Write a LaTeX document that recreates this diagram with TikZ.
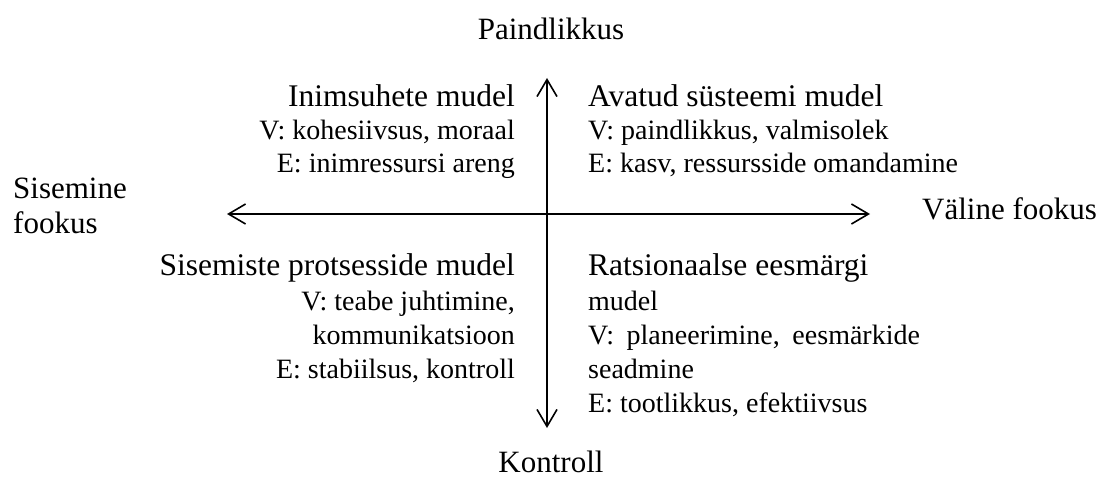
\documentclass[tikz,border=0pt]{standalone}
\usepackage{fontspec}
\setmainfont{Liberation Serif}
\usetikzlibrary{arrows.meta}
\begin{document}
\begin{tikzpicture}[x=1pt,y=-1pt,
  axislabel/.style={inner sep=0pt,font=\fontsize{31}{33}\selectfont},
  title/.style={inner sep=0pt,font=\fontsize{31.5}{33}\selectfont},
  body/.style={inner sep=0pt,font=\fontsize{28}{33}\selectfont},
  axis/.style={line width=1.6pt,{Straight Barb[length=17pt,width=20pt,line width=1.6pt]}-{Straight Barb[length=17pt,width=20pt,line width=1.6pt]}}]
\useasboundingbox (0,0) rectangle (1102,486);
% axes
\coordinate (L) at (227,214);
\coordinate (R) at (870,214);
\coordinate (T) at (547,78);
\coordinate (B) at (547,428);
\draw[axis] (L) -- (R);
\draw[axis] (T) -- (B);
% axis labels
\node[axislabel,anchor=base] (top) at (551,40) {Paindlikkus};
\node[axislabel,anchor=base] (bottom) at (551,472) {Kontroll};
\node[axislabel,anchor=base west] (left1) at (13,199) {Sisemine};
\node[axislabel,anchor=base west] (left2) at (13,234) {fookus};
\node[axislabel,anchor=base west] (right) at (922,220) {Väline fookus};
% top left
\node[title,anchor=base east] (tl1) at (515,107) {Inimsuhete mudel};
\node[body,anchor=base east] (tl2) at (515,140) {V: kohesiivsus, moraal};
\node[body,anchor=base east] (tl3) at (515,173) {E: inimressursi areng};
% top right
\node[title,anchor=base west] (tr1) at (588,107) {Avatud süsteemi mudel};
\node[body,anchor=base west] (tr2) at (588,140) {V: paindlikkus, valmisolek};
\node[body,anchor=base west] (tr3) at (588,173) {E: kasv, ressursside omandamine};
% bottom left
\node[title,anchor=base east] (bl1) at (515,276) {Sisemiste protsesside mudel};
\node[body,anchor=base east] (bl2) at (515,310) {V: teabe juhtimine,};
\node[body,anchor=base east] (bl3) at (515,344) {kommunikatsioon};
\node[body,anchor=base east] (bl4) at (515,378) {E: stabiilsus, kontroll};
% bottom right
\node[title,anchor=base west] (br1) at (588,276) {Ratsionaalse eesmärgi};
\node[body,anchor=base west] (br2) at (588,310) {mudel};
\node[body,anchor=base west] (br3) at (588,344) {V:\hspace{0.45em}planeerimine,\hspace{0.45em}eesmärkide};
\node[body,anchor=base west] (br4) at (588,378) {seadmine};
\node[body,anchor=base west] (br5) at (588,412) {E: tootlikkus, efektiivsus};
\end{tikzpicture}
\end{document}
